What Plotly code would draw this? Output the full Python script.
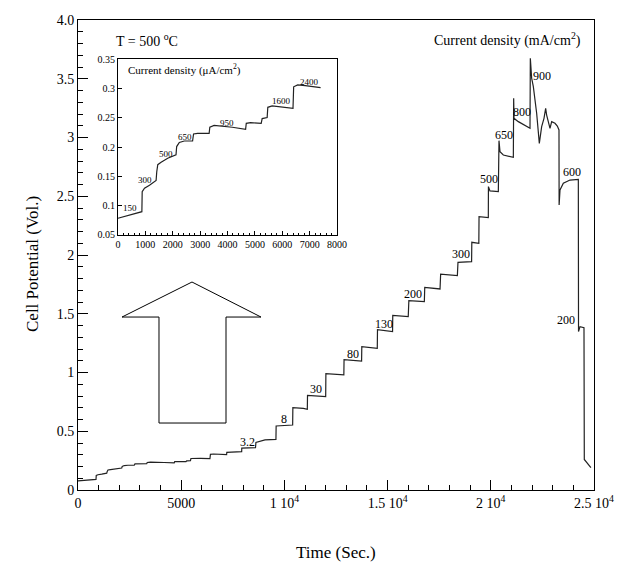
import plotly.graph_objects as go

# ---------------- data ----------------
# Inset (early part of the run, current density in uA/cm2)
inset_time = [0, 872, 884, 969, 1150, 1392, 1416, 1453, 1574, 1816, 2119, 2143, 2240, 2421,
              2724, 2760, 2906, 3329, 3354, 3511, 4177, 4661, 4685, 4843, 5230, 5266, 5448,
              5472, 5630, 5932, 6392, 6416, 6562, 6840, 7400]
inset_volt = [0.0785, 0.0898, 0.124, 0.130, 0.135, 0.143, 0.158, 0.170, 0.174, 0.181, 0.187,
              0.201, 0.208, 0.2105, 0.2105, 0.2225, 0.2236, 0.2236, 0.234, 0.237, 0.234, 0.2305,
              0.2407, 0.2418, 0.2407, 0.2487, 0.2504, 0.268, 0.2703, 0.269, 0.2663, 0.303,
              0.3062, 0.305, 0.3016]

# Main run after the inset window (current density in mA/cm2)
late_time = [7200, 7210, 7930, 7935, 8600, 8620, 9060, 9590, 9600, 10400, 10410, 10917, 11110,
             11120, 12000, 12010, 12880, 12890, 13740, 13750, 14500, 14510, 15240, 15250, 16000,
             16030, 16780, 16800, 17540, 17570, 18380, 18410, 19070, 19080, 19420, 19430, 19880,
             19885, 19960, 20365, 20397, 20446, 20607, 21092, 21108, 21124, 21334, 21600, 21899,
             21915, 21980, 22061, 22141, 22222, 22351, 22464, 22577, 22658, 22706, 22787, 22868,
             22949, 23110, 23223, 23304, 23310, 23353, 23514, 23837, 24241, 24250, 24322, 24515,
             24530, 24700, 24850]
late_volt = [0.302, 0.321, 0.326, 0.357, 0.360, 0.405, 0.426, 0.431, 0.545, 0.553, 0.700, 0.695,
             0.687, 0.806, 0.794, 0.990, 0.979, 1.110, 1.098, 1.220, 1.206, 1.365, 1.348, 1.486,
             1.475, 1.612, 1.603, 1.725, 1.711, 1.838, 1.824, 1.938, 1.943, 2.108, 2.099, 2.326,
             2.318, 2.582, 2.545, 2.539, 2.973, 2.879, 2.851, 2.831, 3.333, 3.163, 3.135, 3.105,
             3.078, 3.674, 3.504, 3.433, 3.319, 3.206, 2.950, 3.092, 3.163, 3.248, 3.191, 3.135,
             3.078, 3.135, 3.121, 3.098, 3.064, 2.426, 2.553, 2.610, 2.638, 2.644, 1.348, 1.390,
             1.381, 0.26, 0.22, 0.19]

# step labels, main plot (mA/cm2)
main_labels = ["3.2", "8", "30", "80", "130", "200", "300", "500", "650", "800", "900", "600", "200"]
main_label_t = [8204, 9997, 11531, 13340, 14842, 16247, 18556, 19929, 20639, 21495, 22496, 23950, 23659]
main_label_v = [0.411, 0.601, 0.860, 1.157, 1.413, 1.665, 2.009, 2.644, 3.021, 3.214, 3.523, 2.709, 1.447]

# step labels, inset (uA/cm2)
inset_labels = ["150", "300", "500", "650", "950", "1600", "2400"]
inset_label_t = [448, 969, 1755, 2445, 3971, 5969, 6985]
inset_label_v = [0.0955, 0.144, 0.189, 0.217, 0.242, 0.279, 0.312]

# tick labels
x_tickvals = [0, 5000, 10000, 15000, 20000, 25000]
x_ticktext = ["0", "5000", "1 10<sup>4</sup>", "1.5 10<sup>4</sup>", "2 10<sup>4</sup>", "2.5 10<sup>4</sup>"]
y_tickvals = [0, 0.5, 1, 1.5, 2, 2.5, 3, 3.5, 4.0]
y_ticktext = ["0", "0.5", "1", "1.5", "2", "2.5", "3", "3.5", "4.0"]
ix_tickvals = [0, 1000, 2000, 3000, 4000, 5000, 6000, 7000, 8000]
iy_tickvals = [0.05, 0.1, 0.15, 0.2, 0.25, 0.3, 0.35]
iy_ticktext = ["0.05", "0.1", "0.15", "0.2", "0.25", "0.3", "0.35"]

# hollow arrow outline (time, volt)
arrow_t = [3924, 3924, 2132, 5523, 8866, 7171, 7171]
arrow_v = [0.570, 1.472, 1.472, 1.770, 1.472, 1.472, 0.570]

# ---------------- figure ----------------
FONT = "Liberation Serif, Times New Roman, serif"
main_t = [t for t in inset_time if t <= 6840] + late_time
main_v = [v for t, v in zip(inset_time, inset_volt) if t <= 6840] + late_volt

fig = go.Figure()
fig.add_trace(go.Scatter(x=main_t, y=main_v, mode="lines",
                         line=dict(color="#222", width=1.2), xaxis="x", yaxis="y",
                         showlegend=False, hoverinfo="skip"))
fig.add_trace(go.Scatter(x=inset_time, y=inset_volt, mode="lines",
                         line=dict(color="#222", width=1.2), xaxis="x2", yaxis="y2",
                         showlegend=False, hoverinfo="skip"))

annotations = []
for txt, t, v in zip(main_labels, main_label_t, main_label_v):
    annotations.append(dict(x=t, y=v, xref="x", yref="y", text=txt, showarrow=False,
                            xanchor="center", yanchor="middle",
                            font=dict(family=FONT, size=12, color="black")))
for txt, t, v in zip(inset_labels, inset_label_t, inset_label_v):
    annotations.append(dict(x=t, y=v, xref="x2", yref="y2", text=txt, showarrow=False,
                            xanchor="center", yanchor="middle",
                            font=dict(family=FONT, size=9, color="black")))

annotations += [
    dict(x=280, y=0.333, xref="x2", yref="y2", xanchor="left", yanchor="middle", showarrow=False,
         text="Current density (\u03bcA/cm<sup>2</sup>)", font=dict(family=FONT, size=11, color="black")),
    dict(x=1750, y=3.83, xref="x", yref="y", xanchor="left", yanchor="middle", showarrow=False,
         text="T = 500 <sup>o</sup>C", font=dict(family=FONT, size=14, color="black")),
    dict(x=0.978, y=3.83, xref="paper", yref="y", xanchor="right", yanchor="middle", showarrow=False,
         text="Current density (mA/cm<sup>2</sup>)", font=dict(family=FONT, size=14, color="black")),
    dict(x=0.5, y=-0.134, xref="paper", yref="paper", xanchor="center", yanchor="middle",
         showarrow=False, text="Time (Sec.)", font=dict(family=FONT, size=17, color="black")),
    dict(x=-0.088, y=0.48, xref="paper", yref="paper", xanchor="center", yanchor="middle",
         showarrow=False, textangle=-90,
         text="Cell Potential (Vol.)", font=dict(family=FONT, size=17, color="black")),
]

path = "M " + " L ".join(f"{t},{v}" for t, v in zip(arrow_t, arrow_v)) + " Z"
shapes = [dict(type="path", path=path, xref="x", yref="y",
               line=dict(color="black", width=1), fillcolor="white")]

axis_common = dict(showgrid=False, zeroline=False, showline=True, linecolor="black",
                   linewidth=1, mirror=True, ticks="inside", tickcolor="black")

fig.update_layout(
    width=618, height=565,
    margin=dict(l=78, r=24, t=20, b=75),
    paper_bgcolor="white", plot_bgcolor="white",
    template="none",
    font=dict(family=FONT, color="black"),
    xaxis=dict(range=[0, 25000], tickvals=x_tickvals, ticktext=x_ticktext, ticklen=10,
               tickfont=dict(family=FONT, size=14), domain=[0, 1], anchor="y",
               minor=dict(dtick=1000, ticklen=5, ticks="inside", tickcolor="black"),
               **axis_common),
    yaxis=dict(range=[0, 4.0], tickvals=y_tickvals, ticktext=y_ticktext, ticklen=10,
               tickfont=dict(family=FONT, size=14), domain=[0, 1], anchor="x",
               minor=dict(dtick=0.1, ticklen=5, ticks="inside", tickcolor="black"),
               **axis_common),
    xaxis2=dict(range=[0, 8000], tickvals=ix_tickvals, ticklen=4,
                tickfont=dict(family=FONT, size=10), domain=[0.0775, 0.502], anchor="y2",
                minor=dict(dtick=200, ticklen=2, ticks="inside", tickcolor="black"),
                **axis_common),
    yaxis2=dict(range=[0.05, 0.35], tickvals=iy_tickvals, ticktext=iy_ticktext, ticklen=4,
                tickfont=dict(family=FONT, size=10), domain=[0.5426, 0.9164], anchor="x2",
                **axis_common),
    annotations=annotations,
    shapes=shapes,
)

# remove the browser's default 8px page margin so the figure fills the window exactly
fig.write_html("out.html", config={"displayModeBar": False},
               post_script="document.body.style.margin='0';")
